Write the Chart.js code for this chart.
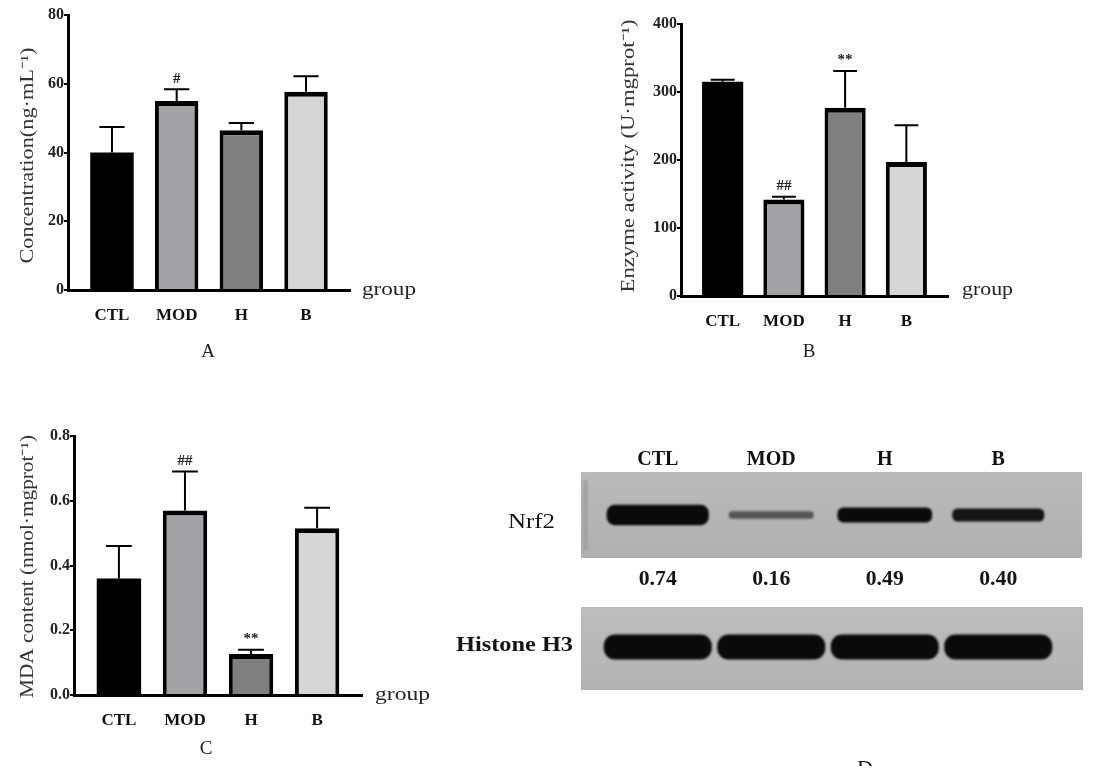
<!DOCTYPE html>
<html>
<head>
<meta charset="utf-8">
<script src="https://cdn.jsdelivr.net/npm/chart.js@4.4.1/dist/chart.umd.min.js"></script>
<style>
body{margin:0;background:#fff;}
#wrap{position:relative;width:1115px;height:774px;overflow:hidden;background:#fff;}
canvas{position:absolute;}
</style>
</head>
<body>
<div id="wrap">
  <canvas id="chartA" width="430" height="370" style="left:0;top:0;width:430px;height:370px"></canvas>
  <canvas id="chartB" width="430" height="370" style="left:600px;top:0;width:430px;height:370px"></canvas>
  <canvas id="chartC" width="440" height="374" style="left:0;top:400px;width:440px;height:374px"></canvas>
  <canvas id="chartD" width="675" height="344" style="left:440px;top:430px;width:675px;height:344px"></canvas>
</div>
<script>
var groups = ['CTL', 'MOD', 'H', 'B']
var barColors = ['#000000', '#a3a3a7', '#7f7f7f', '#d5d5d5']

var concMean = [40, 55, 46.5, 57.7]
var concSD = [7.4, 3.4, 2.1, 4.5]
var concMarks = ['', '#', '', '']
var concTicks = [0, 20, 40, 60, 80]

var enzMean = [315, 142, 277, 197]
var enzSD = [3, 4, 54, 54]
var enzMarks = ['', '##', '**', '']
var enzTicks = [0, 100, 200, 300, 400]

var mdaMean = [0.36, 0.57, 0.127, 0.515]
var mdaSD = [0.1, 0.12, 0.013, 0.063]
var mdaMarks = ['', '##', '**', '']
var mdaTicks = [0, 0.2, 0.4, 0.6, 0.8]

// western blot: relative Nrf2 level per lane, histone loading control
var nrf2Ratio = [0.74, 0.16, 0.49, 0.40]
var histoneBand = [1, 1, 1, 1]

var serif = "'Liberation Serif', 'Times New Roman', serif"

function stretchText(ctx, text, x, y, width) {
  var w = ctx.measureText(text).width
  ctx.save()
  ctx.translate(x, y)
  ctx.scale(width / w, 1)
  ctx.fillText(text, 0, 0)
  ctx.restore()
}

var errorBars = {
  id: 'errorBars',
  afterDatasetsDraw(chart, args, opts) {
    if (!opts.sd) return
    var ctx = chart.ctx, y = chart.scales.y
    var meta = chart.getDatasetMeta(0)
    ctx.save()
    ctx.strokeStyle = '#000'
    ctx.lineWidth = 2
    meta.data.forEach(function (bar, i) {
      var v = chart.data.datasets[0].data[i].y
      var top = y.getPixelForValue(v + opts.sd[i])
      var half = bar.width * 0.29
      ctx.beginPath()
      ctx.moveTo(bar.x, bar.y)
      ctx.lineTo(bar.x, top)
      ctx.moveTo(bar.x - half, top)
      ctx.lineTo(bar.x + half, top)
      ctx.stroke()
      if (opts.marks[i]) {
        ctx.font = 'bold 15px ' + serif
        ctx.fillStyle = '#222'
        ctx.textAlign = 'center'
        ctx.textBaseline = 'bottom'
        ctx.fillText(opts.marks[i], bar.x, top - 3)
      }
    })
    ctx.restore()
  }
}

var panelText = {
  id: 'panelText',
  afterDraw(chart, args, o) {
    if (!o.title) return
    var ctx = chart.ctx, a = chart.chartArea
    ctx.save()
    ctx.fillStyle = '#333'
    ctx.font = '18px ' + serif
    ctx.textAlign = 'center'
    ctx.textBaseline = 'middle'
    ctx.save()
    ctx.translate(o.titleX, (a.top + a.bottom) / 2 + o.titleShift)
    ctx.rotate(-Math.PI / 2)
    stretchText(ctx, o.title, 0, 0, o.titleLen)
    ctx.restore()
    ctx.textAlign = 'left'
    ctx.fillStyle = '#222'
    stretchText(ctx, 'group', o.groupX, o.groupY, o.groupLen)
    ctx.textAlign = 'center'
    ctx.font = '19px ' + serif
    ctx.fillText(o.letter, o.letterX, o.letterY)
    ctx.restore()
  }
}

function barPanel(id, mean, sd, marks, ticks, fmt, box, text) {
  var canvas = document.getElementById(id)
  return new Chart(canvas, {
    type: 'bar',
    data: {
      datasets: [{
        data: groups.map(function (g, i) { return { x: i, y: mean[i] } }),
        backgroundColor: barColors,
        borderColor: '#000',
        borderWidth: function (c) { return c.dataIndex === 0 ? 0 : { top: 5, left: 4, right: 4, bottom: 0 } },
        borderSkipped: 'bottom',
        categoryPercentage: 0.8,
        barPercentage: 0.84
      }]
    },
    options: {
      responsive: false,
      animation: false,
      layout: { padding: { left: 0, top: box.top, right: canvas.width - box.right, bottom: 0 } },
      plugins: {
        legend: { display: false },
        tooltip: { enabled: false },
        errorBars: { sd: sd, marks: marks },
        panelText: text
      },
      scales: {
        x: {
          type: 'linear', min: -0.68, max: 3.68, offset: false, z: 1,
          grid: { display: false, drawTicks: false, offset: false },
          border: { color: '#000', width: 3 },
          afterBuildTicks: function (s) { s.ticks = groups.map(function (g, i) { return { value: i } }) },
          afterFit: function (s) { s.height = canvas.height - box.bottom },
          ticks: {
            callback: function (v) { return groups[v] },
            font: { family: serif, size: 17, weight: 'bold' },
            color: '#111', padding: 15, maxRotation: 0, autoSkip: false
          }
        },
        y: {
          min: ticks[0], max: ticks[ticks.length - 1], z: 1,
          grid: { drawOnChartArea: false, color: '#000', lineWidth: 2, tickLength: 4 },
          border: { color: '#000', width: 3 },
          afterBuildTicks: function (s) { s.ticks = ticks.map(function (v) { return { value: v } }) },
          afterFit: function (s) { s.width = box.left },
          ticks: { callback: fmt, font: { family: serif, size: 16, weight: 'bold' }, color: '#222', padding: 0 }
        }
      }
    },
    plugins: [errorBars, panelText]
  })
}

var plain = function (v) { return String(v) }

barPanel('chartA', concMean, concSD, concMarks, concTicks, plain,
  { left: 68, right: 350, top: 15, bottom: 290 },
  { title: 'Concentration(ng·mL⁻¹)', titleX: 28, titleShift: 3, titleLen: 216,
    groupX: 362, groupY: 290, groupLen: 54, letter: 'A', letterX: 208, letterY: 352 })

barPanel('chartB', enzMean, enzSD, enzMarks, enzTicks, plain,
  { left: 81, right: 348, top: 24, bottom: 296 },
  { title: 'Enzyme activity (U·mgprot⁻¹)', titleX: 29, titleShift: -4, titleLen: 273,
    groupX: 362, groupY: 290, groupLen: 51, letter: 'B', letterX: 209, letterY: 352 })

barPanel('chartC', mdaMean, mdaSD, mdaMarks, mdaTicks, function (v) { return v.toFixed(1) },
  { left: 74, right: 362, top: 36, bottom: 295 },
  { title: 'MDA content (nmol·mgprot⁻¹)', titleX: 28, titleShift: 1, titleLen: 263,
    groupX: 375, groupY: 295, groupLen: 55, letter: 'C', letterX: 206, letterY: 349 })

var blot = {
  id: 'blot',
  beforeDatasetsDraw(chart) {
    var ctx = chart.ctx, x = chart.scales.x, a = chart.chartArea
    var L = a.left - 20, R = a.right + 27
    ctx.save()
    var g1 = ctx.createLinearGradient(0, 42, 0, 128)
    g1.addColorStop(0, '#bababa')
    g1.addColorStop(1, '#b0b0b0')
    ctx.fillStyle = g1
    ctx.fillRect(L, 42, R - L, 86)
    var g2 = ctx.createLinearGradient(0, 177, 0, 260)
    g2.addColorStop(0, '#bdbdbd')
    g2.addColorStop(1, '#b3b3b3')
    ctx.fillStyle = g2
    ctx.fillRect(L, 177, R - L + 1, 83)
    ctx.filter = 'blur(1.2px)'
    ctx.fillStyle = '#a2a2a2'
    ctx.fillRect(L + 2, 50, 5, 70)
    ctx.fillStyle = '#0a0a0a'
    nrf2Ratio.forEach(function (r, i) {
      var cx = x.getPixelForValue(i)
      var w = 80 + r * 30, h = 4 + r * 22
      ctx.globalAlpha = Math.min(1, 0.3 + r * 1.6)
      ctx.beginPath()
      ctx.roundRect(cx - w / 2, 85 - h / 2, w, h, h / 2.5)
      ctx.fill()
    })
    histoneBand.forEach(function (b, i) {
      var cx = x.getPixelForValue(i)
      var w = 108 * b, h = 25 * b
      ctx.globalAlpha = 1
      ctx.beginPath()
      ctx.roundRect(cx - w / 2, 217 - h / 2, w, h, h / 2.2)
      ctx.fill()
    })
    ctx.filter = 'none'
    ctx.globalAlpha = 1
    ctx.fillStyle = '#151515'
    ctx.textAlign = 'center'
    ctx.textBaseline = 'middle'
    ctx.font = 'bold 20px ' + serif
    nrf2Ratio.forEach(function (r, i) {
      stretchText(ctx, r.toFixed(2), x.getPixelForValue(i), 150, 38)
    })
    ctx.textAlign = 'right'
    ctx.font = '22px ' + serif
    stretchText(ctx, 'Nrf2', 115, 92, 47)
    ctx.font = 'bold 20px ' + serif
    stretchText(ctx, 'Histone H3', 133, 216, 117)
    // panel letter, cut off at the bottom edge as in the figure
    ctx.beginPath()
    ctx.rect(380, 300, 100, 36)
    ctx.clip()
    ctx.textAlign = 'center'
    ctx.textBaseline = 'top'
    ctx.font = '22px ' + serif
    ctx.fillText('D', 425, 328)
    ctx.restore()
  }
}

new Chart(document.getElementById('chartD'), {
  type: 'bar',
  data: {
    labels: groups,
    datasets: [{ data: nrf2Ratio, backgroundColor: 'rgba(0,0,0,0)' }]
  },
  options: {
    responsive: false,
    animation: false,
    layout: { padding: { left: 161, right: 60, top: 0, bottom: 0 } },
    plugins: { legend: { display: false }, tooltip: { enabled: false } },
    scales: {
      x: {
        position: 'top',
        grid: { display: false, drawTicks: false },
        border: { display: false },
        afterFit: function (s) { s.height = 42 },
        ticks: { font: { family: serif, size: 20, weight: 'bold' }, color: '#111', padding: 0 }
      },
      y: { display: false, min: 0, max: 1 }
    }
  },
  plugins: [blot]
})
</script>
</body>
</html>
